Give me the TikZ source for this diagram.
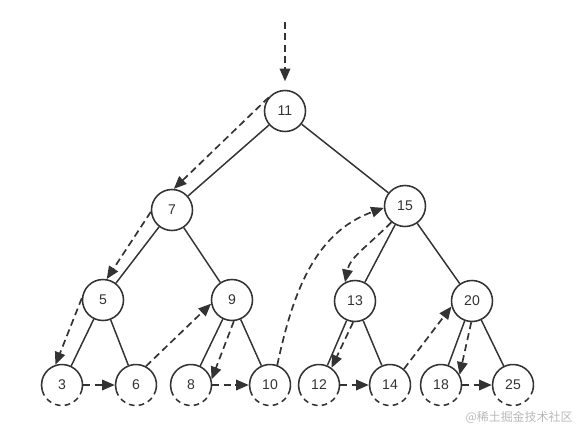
\documentclass[tikz,border=0pt]{standalone}
\usepackage{fontspec}
\setmainfont{Liberation Sans}
\newfontfamily\cjk{Noto Sans CJK SC}
\usetikzlibrary{arrows.meta}
\definecolor{ink}{HTML}{333333}

\begin{document}
\begin{tikzpicture}[x=0.025cm, y=-0.025cm, line width=1.1pt, text=ink,
  key/.style={circle, draw=ink, line width=1.1pt, minimum size=1.025cm, inner sep=0pt, fill=white},
  leaf/.style={circle, minimum size=1.025cm, inner sep=0pt},
  edge/.style={draw=ink, line width=1.05pt},
  walk/.style={draw=ink, line width=1.2pt, dash pattern=on 5pt off 3pt, -{Triangle[length=9pt, width=7.5pt]}}]
  \useasboundingbox (0,0) rectangle (577,429);
  \node[key] (n11) at (285,111) {11};
  \node[key] (n7) at (172,210) {7};
  \node[key] (n15) at (405,206) {15};
  \node[key] (n5) at (103,300) {5};
  \node[key] (n9) at (232,300) {9};
  \node[key] (n13) at (355,301) {13};
  \node[key] (n20) at (472,301) {20};
  % bottom row, lower half dashed
  \foreach \v/\x in {3/62, 6/136, 8/191, 10/270, 12/319, 14/390, 18/441, 25/513} {
    \node[leaf] (n\v) at (\x,385) {\v};
    \draw[ink] (n\v.center) ++(-15:0.5125cm) arc[start angle=-15, end angle=195, radius=0.5125cm];
    \draw[ink, dash pattern=on 4pt off 3pt] (n\v.center) ++(195:0.5125cm) arc[start angle=195, end angle=345, radius=0.5125cm];
  }
  \coordinate (top) at (285,22);
  \draw[edge] (n11) -- (n7);
  \draw[edge] (n11) -- (n15);
  \draw[edge] (n7) -- (n5);
  \draw[edge] (n7) -- (n9);
  \draw[edge] (n5) -- (n3);
  \draw[edge] (n5) -- (n6);
  \draw[edge] (n9) -- (n8);
  \draw[edge] (n9) -- (n10);
  \draw[edge] (n15) -- (n13);
  \draw[edge] (n15) -- (n20);
  \draw[edge] (n13) -- (n12);
  \draw[edge] (n13) -- (n14);
  \draw[edge] (n20) -- (n18);
  \draw[edge] (n20) -- (n25);
  % traversal
  \draw[walk] (top) -- ([yshift=6pt]n11.north);
  \draw[walk] (n11.140) -- (n7.85);
  \draw[walk] (n7.185) -- (n5.80);
  \draw[walk] (n5.175) -- (n3.108);
  \draw[walk] (n3) -- (n6);
  \draw[walk] (n6.62) -- (n9.190);
  \draw[walk] (n9.-85) -- (n8.15);
  \draw[walk] (n8) -- (n10);
  \draw[walk] (n10.70) .. controls +(15,-70) and +(-70,25) .. (n15.185);
  \draw[walk] (n15.230) .. controls +(-25,25) and +(5,-25) .. (n13.118);
  \draw[walk] (n13.-95) -- (n12.54);
  \draw[walk] (n12) -- (n14);
  \draw[walk] (n14.49) -- (n20.195);
  \draw[walk] (n20.-92) -- (n18.29);
  \draw[walk] (n18) -- (n25);
  \node[font=\cjk\fontsize{8.5}{10}\selectfont, text=gray!55] (mark) at (519,417) {@稀土掘金技术社区};
\end{tikzpicture}
\end{document}
